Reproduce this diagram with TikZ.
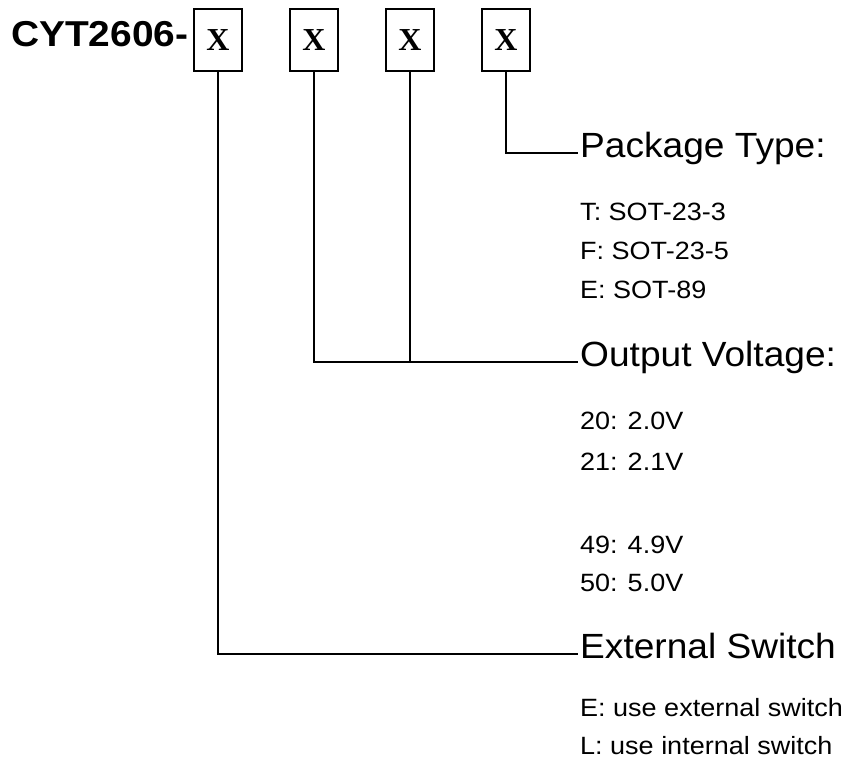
\documentclass[tikz,border=0pt]{standalone}
\usepackage{fontspec}
\setmainfont{Liberation Sans}
\newfontfamily\serifb{Liberation Serif}
\begin{document}
\begin{tikzpicture}[x=1pt,y=-1pt,
  box/.style={draw, line width=1.3pt, minimum width=48pt, minimum height=62pt, inner sep=0pt,
    font=\serifb\bfseries\fontsize{32}{36}\selectfont},
  title/.style={anchor=base west, inner sep=0pt, font=\bfseries\fontsize{36}{40}\selectfont, xscale=1.08, transform shape},
  hdr/.style={anchor=base west, inner sep=0pt, font=\fontsize{35}{38}\selectfont, xscale=1.06, transform shape},
  item/.style={anchor=base west, inner sep=0pt, font=\fontsize{25}{28}\selectfont, xscale=1.08, transform shape},
  wire/.style={line width=1.3pt}]
\useasboundingbox (0,0) rectangle (856,763);
\node[title] (t) at (11,46) {CYT2606-};
\node[box] (b1) at (218,40) {X};
\node[box] (b2) at (314,40) {X};
\node[box] (b3) at (410,40) {X};
\node[box] (b4) at (506,40) {X};

\node[hdr] (pkg) at (580,157) {Package Type:};
\node[item] (p1) at (580,220) {T: SOT-23-3};
\node[item] (p2) at (580,259) {F: SOT-23-5};
\node[item] (p3) at (580,298) {E: SOT-89};

\node[hdr] (out) at (580,366) {Output Voltage:};
\node[item] (v1) at (580,429) {20: 2.0V};
\node[item] (v2) at (580,470) {21: 2.1V};
\node[item] (v3) at (580,553) {49: 4.9V};
\node[item] (v4) at (580,591) {50: 5.0V};

\node[hdr] (ext) at (580,658) {External Switch};
\node[item] (e1) at (580,716) {E: use external switch};
\node[item] (e2) at (580,754) {L: use internal switch};

\coordinate (pkgL) at ([shift={(-2pt,4pt)}]pkg.base west);
\coordinate (outL) at ([shift={(-2pt,4pt)}]out.base west);
\coordinate (extL) at ([shift={(-2pt,4pt)}]ext.base west);

\draw[wire] (b4.south) |- (pkgL);
\draw[wire] (b2.south) |- (outL);
\draw[wire] (b3.south) -- (b3.south |- outL);
\draw[wire] (b1.south) |- (extL);
\end{tikzpicture}
\end{document}
